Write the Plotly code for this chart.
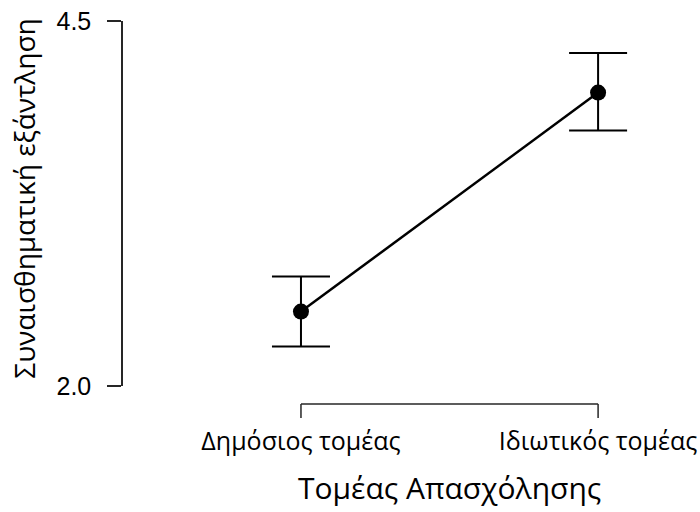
import plotly.graph_objects as go

# Group means of emotional exhaustion with confidence intervals
sectors = ["Δημόσιος τομέας", "Ιδιωτικός τομέας"]
means = [2.51, 4.01]
ci_lower = [2.27, 3.75]
ci_upper = [2.75, 4.28]
y_ticks = [2.0, 4.5]
y_ticklabels = ["2.0", "4.5"]

x_pos = list(range(len(sectors)))
err_plus = [u - m for u, m in zip(ci_upper, means)]
err_minus = [m - l for m, l in zip(means, ci_lower)]

label_font = "Open Sans, Noto Sans, sans-serif"
num_font = "Liberation Sans, Arial, sans-serif"
axis_col = "#262626"

fig = go.Figure()
fig.add_trace(go.Scatter(
    x=x_pos, y=means,
    mode="lines+markers",
    line=dict(color="black", width=2.5),
    marker=dict(color="black", size=16),
    error_y=dict(type="data", symmetric=False, array=err_plus, arrayminus=err_minus,
                 color="black", thickness=2, width=29),
    cliponaxis=False,
    showlegend=False,
))

# Offset x axis line with ticks, spanning the categories only
y_line = -0.0493
y_tick = -0.0877
fig.add_shape(type="line", xref="x", yref="paper", x0=x_pos[0], x1=x_pos[-1],
              y0=y_line, y1=y_line, line=dict(color=axis_col, width=1.5))
for xp in x_pos:
    fig.add_shape(type="line", xref="x", yref="paper", x0=xp, x1=xp,
                  y0=y_line, y1=y_tick, line=dict(color=axis_col, width=1.5))

fig.add_annotation(text="Τομέας Απασχόλησης", xref="x", yref="paper",
                   x=(x_pos[0] + x_pos[-1]) / 2, y=-0.277,
                   xanchor="center", yanchor="middle", showarrow=False,
                   font=dict(family=label_font, size=30, color="black"))
fig.add_annotation(text="Συναισθηματική εξάντληση", xref="paper", yref="paper",
                   x=-0.171, y=0.514, xanchor="center", yanchor="middle",
                   textangle=-90, showarrow=False,
                   font=dict(family=label_font, size=28, color="black"))

fig.update_layout(
    width=700, height=512,
    margin=dict(l=123, r=0, t=21, b=126),
    paper_bgcolor="white", plot_bgcolor="white",
    xaxis=dict(range=[-0.599, 1.343], tickvals=x_pos, ticktext=sectors,
               showgrid=False, zeroline=False, showline=False, ticks="",
               ticklabelstandoff=38,
               tickfont=dict(family=label_font, size=25, color="black")),
    yaxis=dict(range=[2.0, 4.5], tickvals=y_ticks, ticktext=y_ticklabels,
               showgrid=False, zeroline=False, showline=True, linecolor=axis_col,
               linewidth=1.5, ticks="outside", ticklen=14, tickwidth=1.5,
               tickcolor=axis_col, ticklabelstandoff=11,
               tickfont=dict(family=num_font, size=25, color="black")),
)

fig.write_html("out.html")
